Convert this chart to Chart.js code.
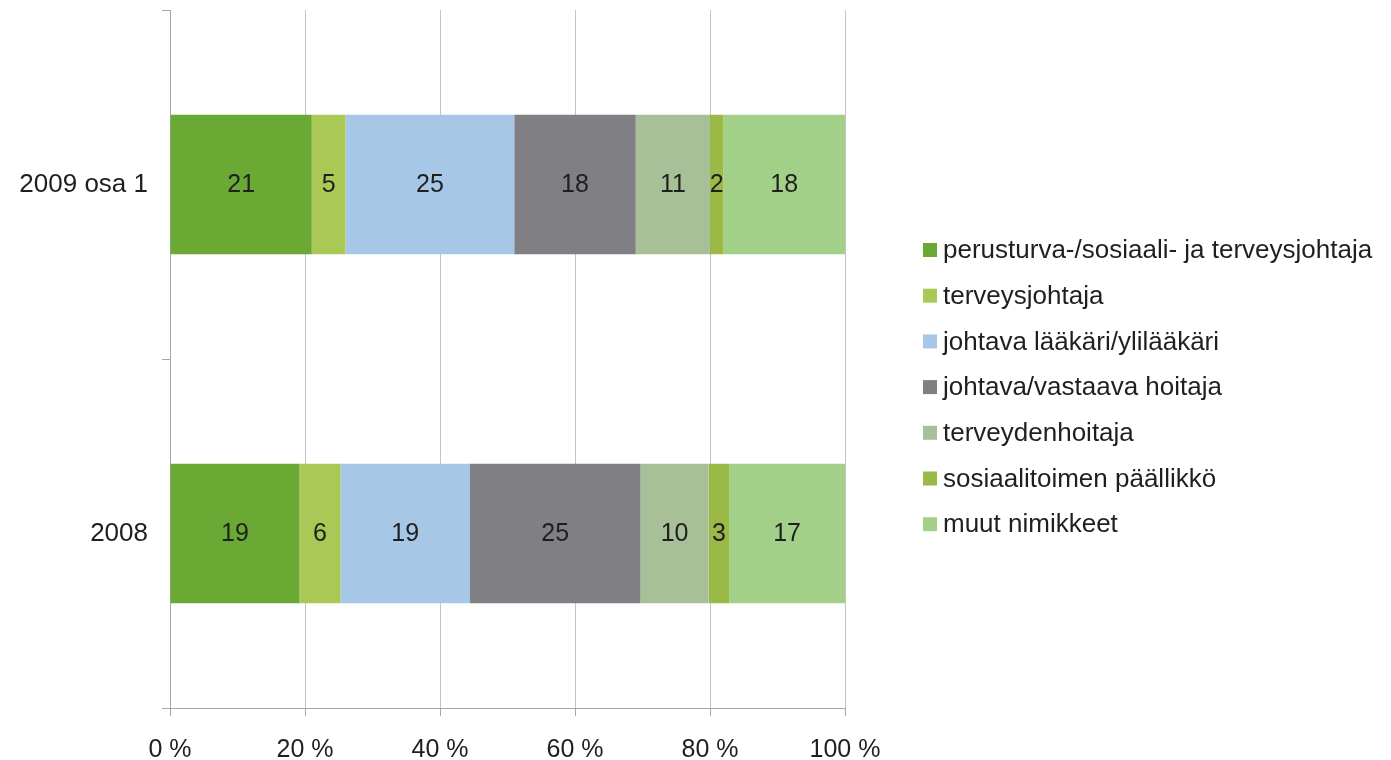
<!DOCTYPE html>
<html>
<head>
<meta charset="utf-8">
<script src="https://cdn.jsdelivr.net/npm/chart.js@4"></script>
<style>
  html, body { margin: 0; padding: 0; background: #fff; }
  #wrap { width: 1391px; height: 760px; position: relative; }
</style>
</head>
<body>
<div id="wrap"><canvas id="c"></canvas></div>
<script>
/* ── Data ── */
const YEARS = ['2009 osa 1', '2008'];
const TITLES = [
  'perusturva-/sosiaali- ja terveysjohtaja',
  'terveysjohtaja',
  'johtava lääkäri/ylilääkäri',
  'johtava/vastaava hoitaja',
  'terveydenhoitaja',
  'sosiaalitoimen päällikkö',
  'muut nimikkeet'
];
const V2009 = [21, 5, 25, 18, 11, 2, 18];
const V2008 = [19, 6, 19, 25, 10, 3, 17];
const X_TICKS = [0, 20, 40, 60, 80, 100];
const COLORS = ['#6aaa34', '#aac855', '#a7c7e6', '#807f84', '#a8c098', '#9bb946', '#a3d088'];

const FONT = "'Liberation Sans', Arial, sans-serif";
const TEXT = '#1f1f1f';
const AXIS = '#a6a6a6';

const rows = [V2009, V2008];
const totals = rows.map(r => r.reduce((a, b) => a + b, 0));

const datasets = TITLES.map((t, i) => ({
  label: t,
  raw: rows.map(r => r[i]),
  data: rows.map((r, k) => r[i] / totals[k] * 100),
  backgroundColor: COLORS[i],
  borderWidth: 0,
  categoryPercentage: 1,
  barPercentage: 0.4
}));

/* numbers inside the segments */
const segLabels = {
  id: 'segLabels',
  afterDatasetsDraw(chart) {
    const ctx = chart.ctx;
    ctx.save();
    ctx.font = '25px ' + FONT;
    ctx.fillStyle = TEXT;
    ctx.textAlign = 'center';
    ctx.textBaseline = 'middle';
    chart.data.datasets.forEach((ds, i) => {
      chart.getDatasetMeta(i).data.forEach((el, j) => {
        const p = el.getProps(['x', 'y', 'base'], true);
        ctx.fillText(String(ds.raw[j]), (p.x + p.base) / 2, p.y + 1);
      });
    });
    ctx.restore();
  }
};

/* legend on the right, drawn from the datasets */
const sideLegend = {
  id: 'sideLegend',
  afterDraw(chart) {
    const ctx = chart.ctx;
    const x = chart.chartArea.right + 78, y0 = 250, step = 45.7, box = 14;
    ctx.save();
    ctx.font = '26px ' + FONT;
    ctx.textBaseline = 'middle';
    ctx.textAlign = 'left';
    chart.data.datasets.forEach((ds, i) => {
      const y = y0 + i * step;
      ctx.fillStyle = ds.backgroundColor;
      ctx.fillRect(x, y - box / 2, box, box);
      ctx.fillStyle = TEXT;
      ctx.fillText(ds.label, x + 20, y + 1);
    });
    ctx.restore();
  }
};

new Chart(document.getElementById('c'), {
  type: 'bar',
  data: { labels: YEARS, datasets },
  plugins: [segLabels, sideLegend],
  options: {
    responsive: true, maintainAspectRatio: false,
    animation: false,
    indexAxis: 'y',
    layout: { padding: { top: 10, right: 546, left: 0, bottom: 0 } },
    plugins: { legend: { display: false }, tooltip: { enabled: false } },
    scales: {
      x: {
        stacked: true, min: 0, max: 100,
        afterBuildTicks: s => { s.ticks = X_TICKS.map(v => ({ value: v })); },
        afterFit: s => { s.height = 52; s.paddingLeft = 0; s.paddingRight = 0; },
        border: { color: AXIS, width: 1 },
        grid: { color: '#c4c4c4', tickLength: 8, tickColor: AXIS },
        ticks: { color: TEXT, font: { family: FONT, size: 25 }, padding: 19, callback: v => v + '\u00a0%' }
      },
      y: {
        stacked: true,
        afterFit: s => { s.width = 170; s.paddingTop = 0; s.paddingBottom = 0; },
        border: { color: AXIS, width: 1 },
        grid: { offset: true, drawOnChartArea: false, tickLength: 8, color: AXIS },
        ticks: { color: TEXT, font: { family: FONT, size: 26 }, padding: 14 }
      }
    }
  }
});
</script>
</body>
</html>
